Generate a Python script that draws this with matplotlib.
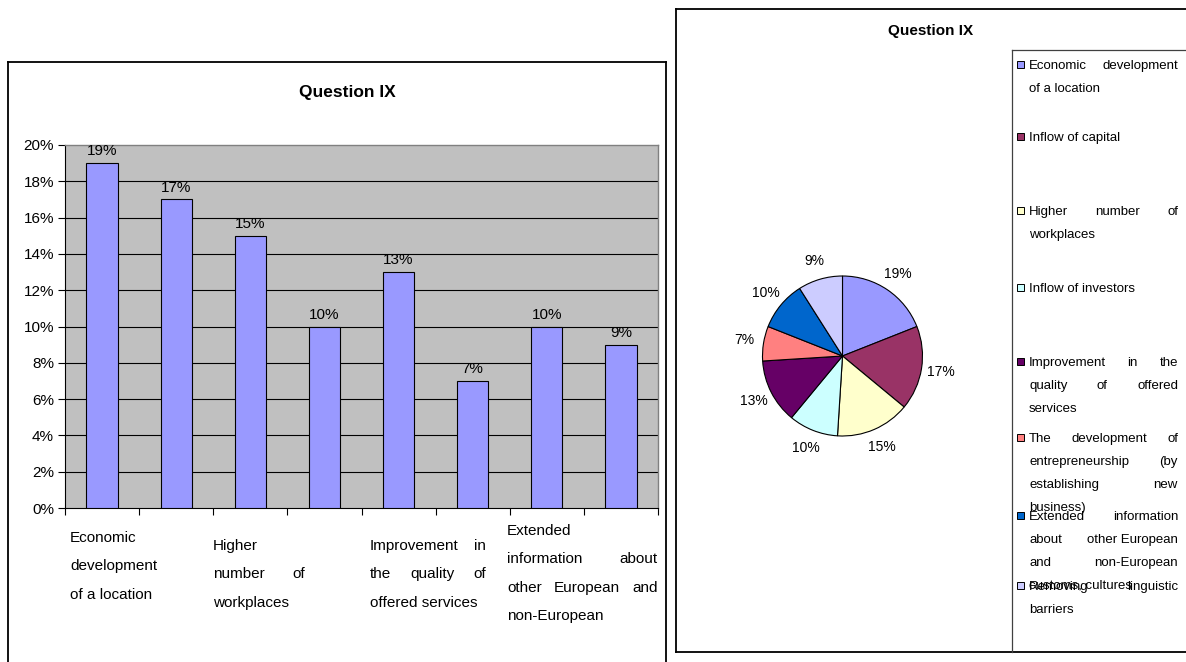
import matplotlib
matplotlib.use('Agg')
import numpy as np
import matplotlib.pyplot as plt
from matplotlib.patches import Rectangle
from matplotlib.lines import Line2D

plt.rcParams['font.family'] = ['Liberation Sans', 'DejaVu Sans']

# ---------------- data ----------------
title = "Question IX"
categories = [
    "Economic development of a location",
    "Inflow of capital",
    "Higher number of workplaces",
    "Inflow of investors",
    "Improvement in the quality of offered services",
    "The development of entrepreneurship (by establishing new business)",
    "Extended information about other European and non-European customs, cultures",
    "Removing linguistic barriers",
]
values = [19, 17, 15, 10, 13, 7, 10, 9]
y_ticks = [0, 2, 4, 6, 8, 10, 12, 14, 16, 18, 20]
y_tick_labels = [f"{v}%" for v in y_ticks]
pie_colors = ["#9999FF", "#993366", "#FFFFCC", "#CCFFFF",
              "#660066", "#FF8080", "#0066CC", "#CCCCFF"]

# x-axis label lines (as wrapped in the original), with justification flags
xlabel_lines = [
    [("Economic", False), ("development", False), ("of a location", False)],
    [("Higher", False), ("number of", True), ("workplaces", False)],
    [("Improvement in", True), ("the quality of", True), ("offered services", False)],
    [("Extended", False), ("information about", True), ("other European and", True), ("non-European", False)],
]
legend_lines = [
    [("Economic development", True), ("of a location", False)],
    [("Inflow of capital", False)],
    [("Higher number of", True), ("workplaces", False)],
    [("Inflow of investors", False)],
    [("Improvement in the", True), ("quality of offered", True), ("services", False)],
    [("The development of", True), ("entrepreneurship (by", True), ("establishing new", True), ("business)", False)],
    [("Extended information", True), ("about|other European", True), ("and non-European", True), ("customs, cultures", False)],
    [("Removing linguistic", True), ("barriers", False)],
]

# ---------------- figure ----------------
W, H = 1186, 662
fig = plt.figure(figsize=(W / 100, H / 100), dpi=100)
fig.patch.set_facecolor("white")
renderer = fig.canvas.get_renderer()


def fx(x):
    return x / W


def fy(y):
    return 1 - y / H


def text_width(s, fs):
    t = fig.text(0, 0, s, fontsize=fs)
    w = t.get_window_extent(renderer).width
    t.remove()
    return w


def put_line(line, x0, x1, y, fs, justify):
    words = line.split("|") if "|" in line else line.split(" ")
    if not justify or len(words) == 1:
        fig.text(fx(x0), fy(y), line.replace("|", " "), fontsize=fs,
                 ha="left", va="center", color="black")
        return
    widths = [text_width(w, fs) for w in words]
    gap = (x1 - x0 - sum(widths)) / (len(words) - 1)
    x = x0
    for w, wd in zip(words, widths):
        fig.text(fx(x), fy(y), w, fontsize=fs, ha="left", va="center", color="black")
        x += wd + gap


def hline(x0, x1, y, **kw):
    fig.add_artist(Line2D([fx(x0), fx(x1)], [fy(y), fy(y)], transform=fig.transFigure, **kw))


def vline(x, y0, y1, **kw):
    fig.add_artist(Line2D([fx(x), fx(x)], [fy(y0), fy(y1)], transform=fig.transFigure, **kw))


# ---------------- outer boxes ----------------
hline(8, 666, 62, color="black", lw=1.3)
vline(8, 62, 662, color="black", lw=1.3)
vline(666, 62, 662, color="black", lw=1.3)
hline(676, 1186, 9, color="black", lw=1.3)
vline(676, 9, 652, color="black", lw=1.3)
hline(676, 1186, 652, color="black", lw=1.3)
hline(1012, 1186, 50, color="#404040", lw=0.9)
vline(1012, 50, 652, color="#404040", lw=0.9)

# ---------------- bar chart ----------------
ax = fig.add_axes([fx(65), fy(508), (658 - 65) / W, (508 - 145) / H])
ax.set_facecolor("#C0C0C0")
x = np.arange(len(values))
bars = ax.bar(x, values, width=0.42, color="#9999FF", edgecolor="black", linewidth=0.8, zorder=3)
ax.set_xlim(-0.5, len(values) - 0.5)
ax.set_ylim(0, 20)
ax.set_yticks(y_ticks)
ax.set_yticklabels(y_tick_labels, fontsize=11)
ax.set_xticks(np.arange(len(values) + 1) - 0.5)
ax.set_xticklabels([])
ax.tick_params(axis="both", direction="out", length=5, width=0.8, color="black")
ax.tick_params(axis="y", pad=3)
for v in y_ticks[1:-1]:
    ax.axhline(v, color="black", lw=0.8, zorder=1)
for s in ["top", "right"]:
    ax.spines[s].set_color("#808080")
    ax.spines[s].set_linewidth(1.0)
for s in ["left", "bottom"]:
    ax.spines[s].set_color("black")
    ax.spines[s].set_linewidth(0.8)
for b, v in zip(bars, values):
    ax.annotate(f"{v}%", (b.get_x() + b.get_width() / 2, b.get_height()),
                xytext=(0, 3.5), textcoords="offset points", ha="center", va="bottom",
                fontsize=11, zorder=4, annotation_clip=False)

fig.text(fx(347), fy(93), title, fontsize=12.5, fontweight="bold", ha="center", va="center")

# x labels
xl_boxes = [(70, 158, 538), (213, 305, 546), (370, 486, 546), (507, 658, 531)]
for (x0, x1, y0), lines in zip(xl_boxes, xlabel_lines):
    for i, (ln, j) in enumerate(lines):
        put_line(ln, x0, x1, y0 + i * 28.3, 11, j)

# ---------------- pie chart ----------------
cx, cy, r = 842.5, 356, 80
pax = fig.add_axes([fx(cx - r), fy(cy + r), 2 * r / W, 2 * r / H])
wedges, _ = pax.pie(values, colors=pie_colors, startangle=90, counterclock=False,
                    wedgeprops=dict(edgecolor="black", linewidth=0.8))
pax.set_xlim(-1, 1)
pax.set_ylim(-1, 1)
for w, v in zip(wedges, values):
    ang = np.deg2rad((w.theta1 + w.theta2) / 2)
    pax.text(1.24 * np.cos(ang), 1.24 * np.sin(ang), f"{v}%", ha="center", va="center",
             fontsize=10, clip_on=False)

fig.text(fx(931), fy(31), title, fontsize=11, fontweight="bold", ha="center", va="center")

# legend
leg_first_y = [66, 138, 212, 289, 363, 439, 517, 587]
line_h = 23
for y0, lines, col in zip(leg_first_y, legend_lines, pie_colors):
    fig.add_artist(Rectangle((fx(1017), fy(y0 + 2)), 7 / W, 7 / H, transform=fig.transFigure,
                             facecolor=col, edgecolor="black", lw=0.7))
    for i, (ln, j) in enumerate(lines):
        put_line(ln, 1029, 1178, y0 + i * line_h, 9.5, j)

fig.savefig("out.png", dpi=100)
